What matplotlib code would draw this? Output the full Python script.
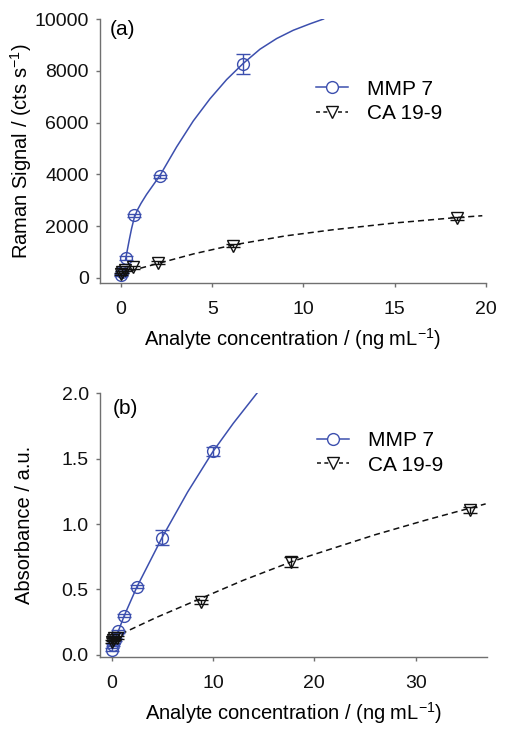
import numpy as np
import matplotlib
matplotlib.use("Agg")
import matplotlib.pyplot as plt
from matplotlib.lines import Line2D

plt.rcParams['font.family'] = ['Liberation Sans', 'DejaVu Sans']
plt.rcParams['mathtext.fontset'] = 'custom'
plt.rcParams['mathtext.rm'] = 'Liberation Sans'
plt.rcParams['mathtext.it'] = 'Liberation Sans:italic'

# ---- panel (a): Raman signal ----
mmp_a_x = [0.0, 0.08, 0.25, 0.74, 2.15, 6.7]
mmp_a_y = [110, 230, 760, 2420, 3930, 8270]
mmp_a_err = [40, 40, 80, 50, 60, 390]
# fitted curve
mmp_a_fit_x = [0.25, 0.35, 0.45, 0.58, 0.73, 0.9, 1.1, 1.4, 1.8, 2.14, 3.05, 3.96,
               4.88, 5.79, 6.7, 7.62, 8.53, 9.44, 10.36, 11.1]
mmp_a_fit_y = [700, 1080, 1450, 1900, 2330, 2620, 2880, 3220, 3620, 3960, 5060, 6060,
               6920, 7660, 8285, 8835, 9245, 9565, 9815, 10000]

ca_a_x = [0.0, 0.076, 0.23, 0.68, 2.05, 6.15, 18.4]
ca_a_y = [140, 220, 300, 400, 590, 1240, 2300]
ca_a_err = [40, 40, 40, 50, 50, 60, 70]
ca_a_fit_x = [0.0, 0.68, 2.05, 4.0, 6.15, 9.0, 11.63, 15.0, 18.4, 19.8]
ca_a_fit_y = [130, 300, 560, 930, 1270, 1620, 1860, 2120, 2330, 2400]

# ---- panel (b): absorbance ----
mmp_b_x = [0.0, 0.16, 0.31, 0.63, 1.25, 2.5, 5.0, 10.0]
mmp_b_y = [0.04, 0.075, 0.115, 0.178, 0.30, 0.52, 0.895, 1.555]
mmp_b_err = [0.01, 0.01, 0.01, 0.01, 0.012, 0.012, 0.057, 0.035]
mmp_b_fit_x = [0.0, 0.63, 1.25, 2.5, 5.0, 7.5, 10.0, 12.0, 14.33]
mmp_b_fit_y = [0.06, 0.175, 0.30, 0.52, 0.90, 1.245, 1.555, 1.77, 2.0]

ca_b_x = [0.0, 0.14, 0.28, 0.55, 8.85, 17.7, 35.4]
ca_b_y = [0.10, 0.115, 0.125, 0.13, 0.40, 0.71, 1.108]
ca_b_err = [0.01, 0.01, 0.01, 0.01, 0.015, 0.038, 0.02]
ca_b_fit_x = [0.0, 4.4, 8.87, 13.0, 17.8, 26.0, 31.0, 36.9]
ca_b_fit_y = [0.125, 0.285, 0.433, 0.57, 0.713, 0.918, 1.03, 1.154]

blue = '#3c4fae'
black = '#111111'
spine_col = '#707070'

fig = plt.figure(figsize=(5.07, 7.34), dpi=100)
ax1 = fig.add_axes([0.1972, 0.6144, 0.7613, 0.3597])
ax2 = fig.add_axes([0.1972, 0.1053, 0.7627, 0.3589])


def draw(ax, mx, my, me, mfx, mfy, cx, cy, ce, cfx, cfy):
    ax.plot(mfx, mfy, color=blue, lw=1.1, zorder=2)
    ax.errorbar(mx, my, yerr=me, fmt='o', ms=8.5, mfc='none', mec=blue, mew=1.0,
                ecolor=blue, elinewidth=1.0, capsize=4.8, capthick=1.0, zorder=3)
    ax.plot(cfx, cfy, color=black, lw=1.1, dashes=(4, 2.6), zorder=2)
    ax.errorbar(cx, cy, yerr=ce, fmt='v', ms=8, mfc='none', mec=black, mew=1.0,
                ecolor=black, elinewidth=1.0, capsize=4.8, capthick=1.0, zorder=4)
    for s in ['top', 'right']:
        ax.spines[s].set_visible(False)
    for s in ['left', 'bottom']:
        ax.spines[s].set_color(spine_col)
        ax.spines[s].set_linewidth(1.0)
    ax.tick_params(axis='both', colors=spine_col, labelcolor='#111111',
                   labelsize=14, length=3, width=1.0, direction='out')
    ax.tick_params(axis='x', pad=10)
    ax.tick_params(axis='y', pad=5)
    handles = [Line2D([], [], color=blue, lw=1.1, marker='o', ms=8.5, mfc='white',
                      mec=blue, mew=1.0),
               Line2D([], [], color=black, lw=1.1, dashes=(2.6, 2.2), marker='v', ms=8,
                      mfc='white', mec=black, mew=1.0)]
    return handles


h = draw(ax1, mmp_a_x, mmp_a_y, mmp_a_err, mmp_a_fit_x, mmp_a_fit_y,
         ca_a_x, ca_a_y, ca_a_err, ca_a_fit_x, ca_a_fit_y)
ax1.set_xlim(-1.15, 20)
ax1.set_ylim(-200, 10000)
ax1.set_xticks([0, 5, 10, 15, 20])
ax1.set_yticks([0, 2000, 4000, 6000, 8000, 10000])
ax1.set_xlabel(r'Analyte concentration / (ng mL$^{-1}$)', fontsize=14.5)
ax1.set_ylabel(r'Raman Signal / (cts s$^{-1}$)', fontsize=14.5)
ax1.xaxis.set_label_coords(0.5, -0.165)
ax1.yaxis.set_label_coords(-0.17, 0.5)
ax1.text(0.026, 0.995, '(a)', transform=ax1.transAxes, fontsize=15, va='top', ha='left')
ax1.legend(h, ['MMP 7', 'CA 19-9'], frameon=False, fontsize=15, loc='upper left',
           bbox_to_anchor=(0.56, 0.77), handlelength=1.55, handletextpad=0.9,
           labelspacing=0.25, borderpad=0, borderaxespad=0)

h = draw(ax2, mmp_b_x, mmp_b_y, mmp_b_err, mmp_b_fit_x, mmp_b_fit_y,
         ca_b_x, ca_b_y, ca_b_err, ca_b_fit_x, ca_b_fit_y)
ax2.set_xlim(-1.15, 37)
ax2.set_ylim(-0.015, 2.0)
ax2.set_xticks([0, 10, 20, 30])
ax2.set_yticks([0.0, 0.5, 1.0, 1.5, 2.0])
ax2.set_yticklabels(['0.0', '0.5', '1.0', '1.5', '2.0'])
ax2.set_xlabel(r'Analyte concentration / (ng mL$^{-1}$)', fontsize=14.5)
ax2.set_ylabel('Absorbance / a.u.', fontsize=14.5)
ax2.xaxis.set_label_coords(0.5, -0.165)
ax2.yaxis.set_label_coords(-0.17, 0.5)
ax2.text(0.034, 0.98, '(b)', transform=ax2.transAxes, fontsize=15, va='top', ha='left')
ax2.legend(h, ['MMP 7', 'CA 19-9'], frameon=False, fontsize=15, loc='upper left',
           bbox_to_anchor=(0.56, 0.855), handlelength=1.55, handletextpad=0.9,
           labelspacing=0.25, borderpad=0, borderaxespad=0)

fig.savefig('out.png', dpi=100)
